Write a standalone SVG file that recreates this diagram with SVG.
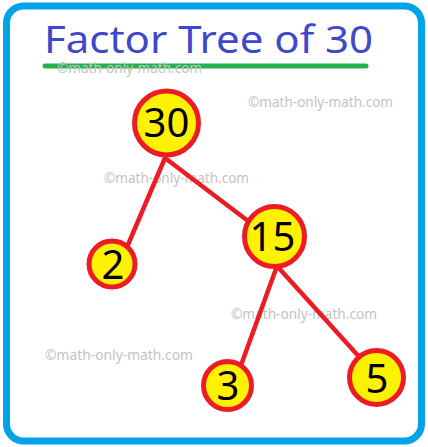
<svg xmlns="http://www.w3.org/2000/svg" width="428" height="447" viewBox="0 0 428 447">
<style>
.frame{fill:#fff;stroke:#00A2E8;stroke-width:7}
.title{font-family:"Noto Sans","Open Sans",sans-serif;font-size:39px;fill:#3F48CC}
.wm{font-family:"Noto Sans","Open Sans",sans-serif;font-size:14px;fill:#C3C3C3}
.node circle{fill:#FFF200;stroke:#ED1C24;stroke-width:5}
.node text{font-family:"Noto Sans","Open Sans",sans-serif;font-size:40px;fill:#000;text-anchor:middle}
.edge{stroke:#ED1C24;stroke-width:4.5;stroke-linecap:round}
</style>
<rect class="frame" x="6.5" y="6" width="415" height="435" rx="17"/>
<text class="title" x="44" y="53" textLength="329" lengthAdjust="spacingAndGlyphs">Factor Tree of 30</text>
<line x1="45" y1="66" x2="366" y2="66" stroke="#22B14C" stroke-width="5" stroke-linecap="round"/>
<g id="watermarks">
<text class="wm" x="57" y="73" textLength="145" lengthAdjust="spacingAndGlyphs">©math-only-math.com</text>
<text class="wm" x="248" y="107" textLength="145" lengthAdjust="spacingAndGlyphs">©math-only-math.com</text>
<text class="wm" x="104" y="183" textLength="145" lengthAdjust="spacingAndGlyphs">©math-only-math.com</text>
<text class="wm" x="231" y="319" textLength="146" lengthAdjust="spacingAndGlyphs">©math-only-math.com</text>
<text class="wm" x="45" y="360" textLength="148" lengthAdjust="spacingAndGlyphs">©math-only-math.com</text>
</g>
<g id="connectors">
<line class="edge" x1="165" y1="158" x2="124" y2="254"/>
<line class="edge" x1="165" y1="158" x2="252" y2="224"/>
<line class="edge" x1="277" y1="266" x2="240" y2="368"/>
<line class="edge" x1="277" y1="266" x2="362" y2="360"/>
</g>
<g id="n30" class="node"><circle cx="166.5" cy="123" r="32"/><text x="166.5" y="137">30</text></g>
<g id="n15" class="node"><circle cx="274.5" cy="236.5" r="30"/><text x="272.5" y="251">15</text></g>
<g id="n2" class="node"><circle cx="112" cy="264" r="23"/><text x="113" y="279">2</text></g>
<g id="n3" class="node"><circle cx="227.5" cy="385.5" r="24"/><text x="228" y="400">3</text></g>
<g id="n5" class="node"><circle cx="376.5" cy="377.5" r="27"/><text x="377" y="393">5</text></g>
</svg>
